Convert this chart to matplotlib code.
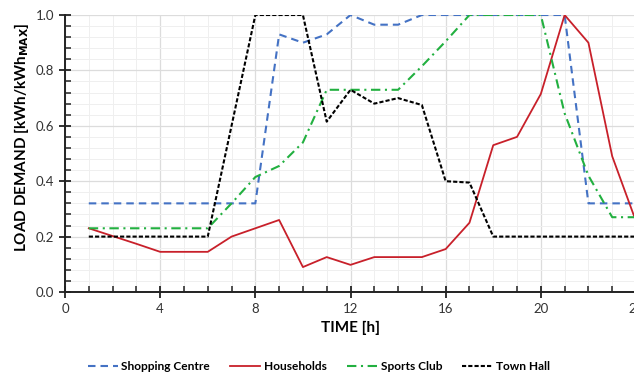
import matplotlib
matplotlib.use("Agg")
import matplotlib.pyplot as plt
from matplotlib.ticker import MultipleLocator

plt.rcParams['font.family'] = ['Lato', 'DejaVu Sans']

hours = list(range(1, 25))
shopping = [0.32, 0.32, 0.32, 0.32, 0.32, 0.32, 0.32, 0.32, 0.93, 0.90, 0.93, 1.00,
            0.965, 0.965, 1.00, 1.00, 1.00, 1.00, 1.00, 1.00, 1.00, 0.32, 0.32, 0.32]
households = [0.23, 0.202, 0.174, 0.145, 0.145, 0.145, 0.20, 0.23, 0.26, 0.09, 0.126, 0.098,
              0.126, 0.126, 0.126, 0.155, 0.25, 0.53, 0.56, 0.715, 1.00, 0.90, 0.49, 0.255]
sports = [0.23, 0.23, 0.23, 0.23, 0.23, 0.23, 0.32, 0.415, 0.455, 0.54, 0.73, 0.73,
          0.73, 0.73, 0.815, 0.905, 1.00, 1.00, 1.00, 1.00, 0.645, 0.42, 0.27, 0.27]
townhall = [0.20, 0.20, 0.20, 0.20, 0.20, 0.20, 0.60, 1.00, 1.00, 1.00, 0.615, 0.73,
            0.68, 0.70, 0.675, 0.40, 0.395, 0.20, 0.20, 0.20, 0.20, 0.20, 0.20, 0.20]
labels = ["Shopping Centre", "Households", "Sports Club", "Town Hall"]
xticks = [0, 4, 8, 12, 16, 20, 24]
yticks = [0.0, 0.2, 0.4, 0.6, 0.8, 1.0]

fig = plt.figure(figsize=(6.34, 3.74), dpi=100)
ax = fig.add_axes([65/634, (374-292)/374, (636-65)/634, (292-15)/374])

lw = 1.5
ax.plot(hours, shopping, color='#4472C4', lw=lw, dashes=(3.6, 2.4), label=labels[0], zorder=3)
ax.plot(hours, households, color='#C8202A', lw=1.3, label=labels[1], zorder=3)
ax.plot(hours, sports, color='#22B040', lw=lw, dashes=(4.5, 2.2, 1.0, 2.2), label=labels[2], zorder=3)
ax.plot(hours, townhall, color='black', lw=lw, dashes=(2.0, 1.0), label=labels[3], zorder=3)

ax.set_xlim(0, 24)
ax.set_ylim(0, 1.0)
ax.set_xticks(xticks)
ax.set_yticks(yticks)
ax.set_yticklabels([f"{v:.1f}" for v in yticks])
ax.xaxis.set_minor_locator(MultipleLocator(1))
ax.yaxis.set_minor_locator(MultipleLocator(0.04))

ax.grid(which='major', color='#dcdcdc', lw=0.9, zorder=0)
ax.grid(which='minor', color='#efefef', lw=0.7, zorder=0)
ax.set_axisbelow(True)

for s in ['top', 'right']:
    ax.spines[s].set_visible(False)
for s in ['left', 'bottom']:
    ax.spines[s].set_color('#222222')
    ax.spines[s].set_linewidth(1.4)

ax.tick_params(which='major', direction='inout', length=8, width=1.3, color='#222222',
               labelsize=9.5, labelcolor='#333333', pad=4)
ax.tick_params(which='minor', direction='in', length=4, width=1.1, color='#222222')

ax.set_xlabel("TIME [h]", fontsize=11, fontweight='bold', labelpad=4)
ax.set_ylabel("LOAD DEMAND [kWh/kWh$_{\\mathbf{MAX}}$]", fontsize=11, fontweight='bold')
ax.yaxis.set_label_coords(-0.060, 0.56)

leg = fig.legend(loc='center', bbox_to_anchor=(0.503, 0.02), ncol=4, frameon=False,
                 handlelength=2.5, handletextpad=0.3, columnspacing=1.7,
                 prop={'weight': 'bold', 'size': 8.6})

fig.savefig("out.png", dpi=100)
